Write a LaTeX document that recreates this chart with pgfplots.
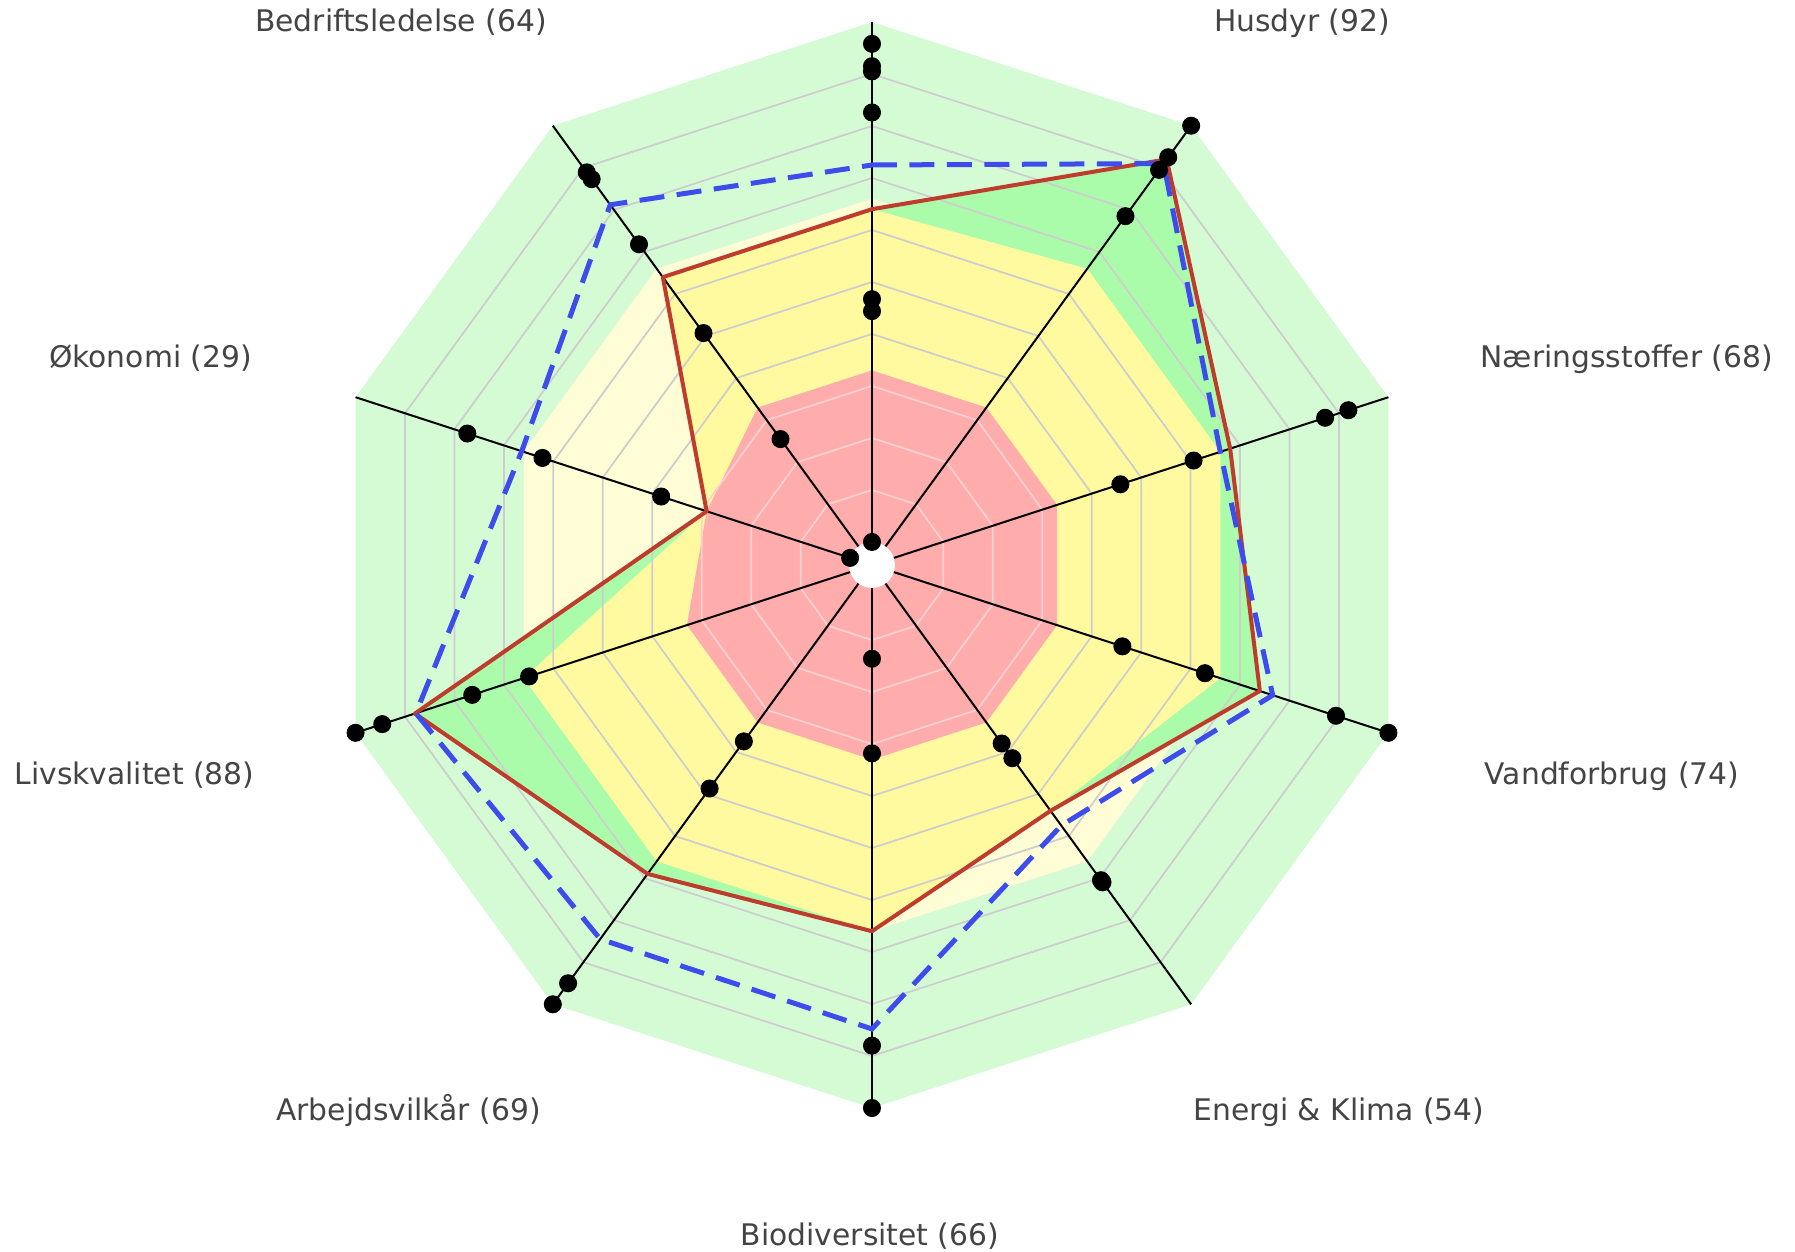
\documentclass[border=0pt]{standalone}
\usepackage{pgfplots}
\pgfplotsset{compat=1.18}
\usepackage{pgfplotstable}
\usepgfplotslibrary{polar}
\usepackage{fontspec}
\setmainfont{DejaVu Sans}

\definecolor{lgreen}{RGB}{213,251,213}
\definecolor{mgreen}{RGB}{170,252,170}
\definecolor{cream}{RGB}{255,253,214}
\definecolor{yel}{RGB}{255,250,160}
\definecolor{pnk}{RGB}{255,172,172}
\definecolor{redline}{RGB}{190,60,45}
\definecolor{blueline}{RGB}{62,76,235}
\definecolor{gridgray}{RGB}{205,205,205}
\definecolor{gridpink}{RGB}{255,208,208}
\definecolor{labelgray}{RGB}{68,68,68}

% angle (deg), farm score, comparison (dashed), score capped at 66 and at 33
\pgfplotstableread{
ang score blue yel pink
90  64 72.5 64 33
54  92 91.0 66 33
18  68 66.0 66 33
342 74 76.6 66 33
306 54 57.5 54 33
270 66 84.8 66 33
234 69 84.5 66 33
198 88 87.8 66 33
162 29 66.4 29 29
126 64 81.2 64 33
90  64 72.5 64 33
}\scores

% black points on the spokes
\pgfplotstableread{
ang v
90 95.8
90 91.5
90 90.5
90 82.6
90 46.7
90 44.4
90 0
54 100
54 92.5
54 89.5
54 78.5
18 91.9
18 87.2
18 60.6
18 45.8
342 100
342 89.4
342 62.9
342 46.2
306 71.0
306 70.5
306 41.5
306 38.0
270 100
270 88.0
270 31.8
270 13.6
234 100
234 95.0
234 48.7
234 37.5
198 100
198 94.6
198 76.4
198 64.9
162 77.4
162 62.2
162 38.2
162 0
126 88.9
126 87.3
126 71.8
126 50.7
126 25.5
}\points

\begin{document}
\begin{tikzpicture}
\path[use as bounding box] (-348.8pt,226pt) rectangle (369.2pt,-274.8pt);
\begin{polaraxis}[
  at={(0,0)}, anchor=center,
  scale only axis, width=434.4pt, height=434.4pt,
  hide axis, clip=false,
  ymin=0, ymax=104.43,
  y filter/.expression={y+4.43},
]
% bands
\addplot[draw=none, fill=lgreen, mark=none] coordinates {(90,100) (54,100) (18,100) (342,100) (306,100) (270,100) (234,100) (198,100) (162,100) (126,100) (90,100)};
\addplot[draw=none, fill=cream, mark=none] coordinates {(90,66) (54,66) (18,66) (342,66) (306,66) (270,66) (234,66) (198,66) (162,66) (126,66) (90,66)};
\addplot[draw=none, fill=mgreen, mark=none] table[x=ang, y=score] {\scores};
\addplot[draw=none, fill=yel, mark=none] table[x=ang, y=yel] {\scores};
\addplot[draw=none, fill=pnk, mark=none] table[x=ang, y=pink] {\scores};
% grid
\pgfplotsinvokeforeach{10,20,30}{
  \addplot[gridpink, line width=0.7pt, mark=none] coordinates {(90,#1) (54,#1) (18,#1) (342,#1) (306,#1) (270,#1) (234,#1) (198,#1) (162,#1) (126,#1) (90,#1)};
}
\pgfplotsinvokeforeach{40,50,60,70,80,90}{
  \addplot[gridgray, line width=0.7pt, mark=none] coordinates {(90,#1) (54,#1) (18,#1) (342,#1) (306,#1) (270,#1) (234,#1) (198,#1) (162,#1) (126,#1) (90,#1)};
}
% hole
\addplot[draw=none, fill=white, mark=none] coordinates {(0,0) (15,0) (30,0) (45,0) (60,0) (75,0) (90,0) (105,0) (120,0) (135,0) (150,0) (165,0) (180,0) (195,0) (210,0) (225,0) (240,0) (255,0) (270,0) (285,0) (300,0) (315,0) (330,0) (345,0) (0,0)};
% spokes
\pgfplotsinvokeforeach{90,54,18,342,306,270,234,198,162,126}{
  \addplot[black, line width=0.8pt, mark=none] coordinates {(#1,0) (#1,100)};
}
% score lines
\addplot[redline, line width=1.6pt, mark=none, line join=round] table[x=ang, y=score] {\scores};
\addplot[blueline, line width=2pt, mark=none, dash pattern=on 10pt off 5pt] table[x=ang, y=blue] {\scores};
\addplot[only marks, mark=*, mark size=3.4pt, black] table[x=ang, y=v] {\points};
\end{polaraxis}
\begin{scope}[every node/.style={anchor=base, text=labelgray, font=\fontsize{11.9}{14}\selectfont, inner sep=0pt}]
\node at (-188.4pt,213.3pt) {Bedriftsledelse (64)};
\node at (172pt,213.3pt) {Husdyr (92)};
\node at (301.9pt,79.1pt) {Næringsstoffer (68)};
\node at (-288.6pt,79.1pt) {Økonomi (29)};
\node at (296pt,-87.6pt) {Vandforbrug (74)};
\node at (-295pt,-87.6pt) {Livskvalitet (88)};
\node at (186.8pt,-222pt) {Energi \& Klima (54)};
\node at (-185.4pt,-222pt) {Arbejdsvilkår (69)};
\node at (-0.8pt,-272pt) {Biodiversitet (66)};
\end{scope}
\end{tikzpicture}
\end{document}
